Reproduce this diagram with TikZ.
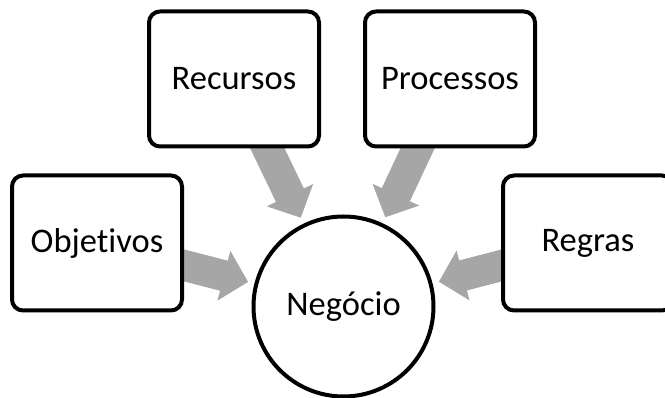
\documentclass[tikz,border=0pt]{standalone}
\usepackage{fontspec}
\setmainfont{Carlito}[Ligatures=NoCommon]
\usetikzlibrary{arrows.meta,backgrounds}
\definecolor{arrowgray}{RGB}{166,166,166}
\begin{document}
\begin{tikzpicture}[x=1pt,y=-1pt,
  box/.style={draw, line width=4pt, rounded corners=11pt, fill=white,
    minimum width=170pt, minimum height=135pt, inner sep=0pt,
    font=\fontsize{34.5}{40}\selectfont},
  hub/.style={circle, draw, line width=4pt, fill=white, minimum size=180pt,
    inner sep=0pt, font=\fontsize{34.5}{40}\selectfont},
  flow/.style={draw=arrowgray, line width=31pt,
    -{Triangle[width=50pt,length=25pt]}, shorten >=6.5pt}]
\useasboundingbox (0,0) rectangle (665,398);
\clip (0,0) rectangle (665,398);
\node[box] (rec) at (234,79) {Recursos};
\node[box] (pro) at (450,79) {Processos};
\node[box] (obj) at (97,243) {Objetivos};
\node[box] (reg) at (588,243) {Regras};
\node[hub] (neg) at (343.5,306.5) {Negócio};
\begin{scope}[on background layer]
  \draw[flow] (rec.center) -- (neg);
  \draw[flow] (pro.center) -- (neg);
  \draw[flow] (obj.center) -- (neg);
  \draw[flow] (reg.center) -- (neg);
\end{scope}
\end{tikzpicture}
\end{document}
